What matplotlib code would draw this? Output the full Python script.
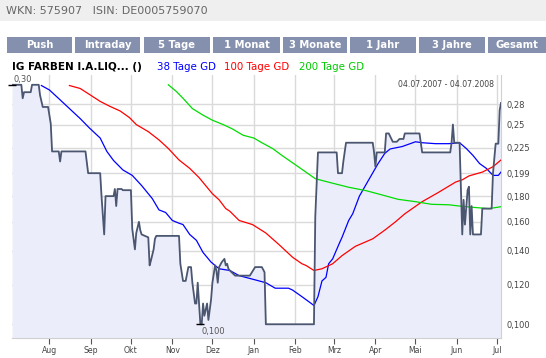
import numpy as np
import matplotlib
matplotlib.use("Agg")
import matplotlib.pyplot as plt
from matplotlib.patches import Rectangle

plt.rcParams['font.family'] = ['DejaVu Sans']

# ---- data -------------------------------------------------------------
price_dates = ["2007-07-04", "2007-07-11", "2007-07-12", "2007-07-13", "2007-07-18", "2007-07-19",
               "2007-07-24", "2007-07-25", "2007-07-27", "2007-07-31", "2007-08-02", "2007-08-03",
               "2007-08-08", "2007-08-09", "2007-08-10", "2007-08-28", "2007-08-30", "2007-09-08",
               "2007-09-09", "2007-09-11", "2007-09-12", "2007-09-18", "2007-09-19", "2007-09-20",
               "2007-09-21", "2007-09-24", "2007-09-25", "2007-10-01", "2007-10-02", "2007-10-04",
               "2007-10-05", "2007-10-07", "2007-10-08", "2007-10-09", "2007-10-14", "2007-10-15",
               "2007-10-16", "2007-10-18", "2007-10-19", "2007-10-20", "2007-11-06", "2007-11-07",
               "2007-11-09", "2007-11-11", "2007-11-13", "2007-11-15", "2007-11-16", "2007-11-18",
               "2007-11-19", "2007-11-20", "2007-11-21", "2007-11-22", "2007-11-23", "2007-11-24",
               "2007-11-25", "2007-11-27", "2007-11-28", "2007-11-30", "2007-12-01", "2007-12-03",
               "2007-12-04", "2007-12-05", "2007-12-06", "2007-12-08", "2007-12-10", "2007-12-11",
               "2007-12-12", "2007-12-13", "2007-12-14", "2007-12-18", "2007-12-29", "2008-01-02",
               "2008-01-07", "2008-01-09", "2008-01-10", "2008-02-15", "2008-02-16", "2008-02-18",
               "2008-03-03", "2008-03-04", "2008-03-07", "2008-03-08", "2008-03-10", "2008-03-30",
               "2008-03-31", "2008-04-01", "2008-04-02", "2008-04-08", "2008-04-09", "2008-04-11",
               "2008-04-14", "2008-04-17", "2008-04-19", "2008-04-22", "2008-04-23", "2008-05-04",
               "2008-05-06", "2008-05-27", "2008-05-28", "2008-05-29", "2008-05-30", "2008-06-03",
               "2008-06-05", "2008-06-06", "2008-06-07", "2008-06-09", "2008-06-10", "2008-06-11",
               "2008-06-12", "2008-06-13", "2008-06-19", "2008-06-20", "2008-06-27", "2008-06-28",
               "2008-06-30", "2008-07-02", "2008-07-03", "2008-07-04"]
price = [0.300, 0.300, 0.282, 0.290, 0.290, 0.300,
         0.300, 0.286, 0.271, 0.271, 0.251, 0.221,
         0.221, 0.211, 0.221, 0.221, 0.200, 0.200,
         0.180, 0.151, 0.180, 0.180, 0.186, 0.172,
         0.186, 0.186, 0.185, 0.185, 0.155, 0.141,
         0.152, 0.160, 0.154, 0.151, 0.149, 0.131,
         0.134, 0.141, 0.148, 0.150, 0.150, 0.132,
         0.122, 0.122, 0.130, 0.130, 0.121, 0.110,
         0.110, 0.121, 0.110, 0.100, 0.100, 0.110,
         0.104, 0.110, 0.102, 0.112, 0.121, 0.131,
         0.128, 0.121, 0.130, 0.133, 0.135, 0.131,
         0.132, 0.129, 0.128, 0.125, 0.125, 0.130,
         0.130, 0.127, 0.100, 0.100, 0.164, 0.220,
         0.220, 0.200, 0.200, 0.211, 0.230, 0.230,
         0.220, 0.206, 0.220, 0.220, 0.240, 0.240,
         0.231, 0.231, 0.234, 0.234, 0.240, 0.240,
         0.220, 0.220, 0.230, 0.250, 0.230, 0.230,
         0.151, 0.177, 0.158, 0.185, 0.188, 0.151,
         0.172, 0.151, 0.151, 0.170, 0.170, 0.200,
         0.229, 0.229, 0.267, 0.276]

gd38_dates = ["2007-07-26", "2007-08-01", "2007-08-09", "2007-08-16", "2007-08-24", "2007-08-31",
              "2007-09-08", "2007-09-13", "2007-09-18", "2007-09-25", "2007-10-02", "2007-10-09",
              "2007-10-17", "2007-10-22", "2007-10-27", "2007-11-01", "2007-11-06", "2007-11-09",
              "2007-11-14", "2007-11-19", "2007-11-24", "2007-11-30", "2007-12-06", "2007-12-14",
              "2007-12-21", "2007-12-31", "2008-01-10", "2008-01-17", "2008-01-27", "2008-01-30",
              "2008-02-06", "2008-02-11", "2008-02-15", "2008-02-18", "2008-02-21", "2008-02-24",
              "2008-02-26", "2008-02-29", "2008-03-05", "2008-03-07", "2008-03-12", "2008-03-15",
              "2008-03-20", "2008-03-27", "2008-04-03", "2008-04-08", "2008-04-12", "2008-04-21",
              "2008-05-01", "2008-05-06", "2008-05-16", "2008-05-26", "2008-06-03", "2008-06-08",
              "2008-06-13", "2008-06-18", "2008-06-23", "2008-06-28", "2008-07-02", "2008-07-04"]
gd38 = [0.299, 0.293, 0.280, 0.269, 0.257, 0.246,
        0.235, 0.221, 0.212, 0.203, 0.198, 0.189,
        0.178, 0.169, 0.167, 0.161, 0.159, 0.158,
        0.151, 0.147, 0.139, 0.133, 0.129, 0.128,
        0.125, 0.123, 0.121, 0.118, 0.118, 0.117,
        0.1135, 0.111, 0.109, 0.1135, 0.122, 0.124,
        0.132, 0.135, 0.145, 0.149, 0.161, 0.166,
        0.180, 0.194, 0.209, 0.219, 0.2235, 0.226,
        0.231, 0.230, 0.229, 0.229, 0.230, 0.224,
        0.217, 0.209, 0.2045, 0.198, 0.198, 0.201]

gd100_dates = ["2007-08-16", "2007-08-24", "2007-08-31", "2007-09-08", "2007-09-15", "2007-09-23",
               "2007-09-30", "2007-10-05", "2007-10-14", "2007-10-22", "2007-10-29", "2007-11-06",
               "2007-11-14", "2007-11-21", "2007-12-01", "2007-12-06", "2007-12-11", "2007-12-14",
               "2007-12-21", "2007-12-31", "2008-01-10", "2008-01-20", "2008-01-30", "2008-02-06",
               "2008-02-09", "2008-02-15", "2008-02-21", "2008-02-29", "2008-03-07", "2008-03-17",
               "2008-03-30", "2008-04-08", "2008-04-16", "2008-04-23", "2008-05-06", "2008-05-18",
               "2008-05-31", "2008-06-05", "2008-06-10", "2008-06-20", "2008-06-28", "2008-07-04"]
gd100 = [0.299, 0.295, 0.287, 0.278, 0.272, 0.266,
         0.258, 0.250, 0.242, 0.233, 0.224, 0.2125,
         0.2045, 0.196, 0.182, 0.177, 0.170, 0.168,
         0.161, 0.158, 0.152, 0.144, 0.136, 0.132,
         0.131, 0.128, 0.129, 0.132, 0.137, 0.143,
         0.148, 0.154, 0.160, 0.166, 0.1755, 0.183,
         0.192, 0.194, 0.1975, 0.201, 0.206, 0.2125]

gd200_dates = ["2007-10-29", "2007-11-04", "2007-11-09", "2007-11-16", "2007-11-24", "2007-12-01",
               "2007-12-09", "2007-12-16", "2007-12-24", "2008-01-01", "2008-01-07", "2008-01-15",
               "2008-01-22", "2008-02-01", "2008-02-09", "2008-02-16", "2008-02-29", "2008-03-12",
               "2008-03-25", "2008-04-06", "2008-04-18", "2008-05-01", "2008-05-13", "2008-05-26",
               "2008-06-03", "2008-06-13", "2008-06-25", "2008-07-04"]
gd200 = [0.300, 0.291, 0.282, 0.269, 0.261, 0.255,
         0.250, 0.245, 0.238, 0.235, 0.230, 0.224,
         0.217, 0.208, 0.201, 0.195, 0.191, 0.1875,
         0.1846, 0.181, 0.1774, 0.1755, 0.1734, 0.173,
         0.172, 0.171, 0.170, 0.1715]

ytick_vals = [0.100, 0.120, 0.140, 0.160, 0.180, 0.200, 0.225, 0.25, 0.2745]
ytick_labels = ['0,100', '0,120', '0,140', '0,160', '0,180', '0,199', '0,225', '0,25', '0,28']
month_labels = ['Aug', 'Sep', 'Okt', 'Nov', 'Dez', 'Jan', 'Feb', 'Mrz', 'Apr', 'Mai', 'Jun', 'Jul']
buttons = ['Push', 'Intraday', '5 Tage', '1 Monat', '3 Monate', '1 Jahr', '3 Jahre', 'Gesamt']
button_x = [(7, 72), (75, 140), (144, 210), (213, 280), (283, 347), (350, 416), (419, 485), (488, 546)]

W, H = 546, 358
fig = plt.figure(figsize=(W / 100, H / 100), dpi=100)


def fx(px):
    return px / W


def fy(py):
    return 1 - py / H


# ---- header -----------------------------------------------------------
fig.patches.append(Rectangle((0, fy(21)), 1, 21 / H, transform=fig.transFigure,
                             facecolor='#efefef', edgecolor='none'))
fig.text(fx(6), fy(11.5), 'WKN: 575907   ISIN: DE0005759070', fontsize=8,
         color='#666666', va='center', ha='left')
for lab, (x0, x1) in zip(buttons, button_x):
    fig.patches.append(Rectangle((fx(x0), fy(53)), (x1 - x0) / W, 15.5 / H,
                                 transform=fig.transFigure, facecolor='#8490ad',
                                 edgecolor='none'))
    fig.text(fx((x0 + x1) / 2), fy(45.5), lab, fontsize=7.2, color='white',
             fontweight='bold', ha='center', va='center')

# title line with legend
fig.text(fx(12), fy(66.5), 'IG FARBEN I.A.LIQ... ()', fontsize=7.5, fontweight='bold',
         color='black', va='center', ha='left')
fig.text(fx(157), fy(66.5), '38 Tage GD', fontsize=7.4, color='#0000ff', va='center')
fig.text(fx(224), fy(66.5), '100 Tage GD', fontsize=7.4, color='#ff0000', va='center')
fig.text(fx(299), fy(66.5), '200 Tage GD', fontsize=7.4, color='#00cc00', va='center')

# ---- chart ------------------------------------------------------------
ax = fig.add_axes([fx(12), fy(338), (501 - 12) / W, (338 - 75) / H])

pd_ = np.array(price_dates, dtype='datetime64[D]')
p = np.array(price)
ymin, ymax = 0.0939, 0.3138

ax.set_yscale('log')
ax.fill_between(pd_, p, ymin, color='#ecedfb', lw=0, zorder=1)
ax.plot(pd_, p, color='#4b5670', lw=1.3, zorder=4)
ax.plot(np.array(gd38_dates, dtype='datetime64[D]'), gd38, color='#0000ff', lw=0.9, zorder=3)
ax.plot(np.array(gd100_dates, dtype='datetime64[D]'), gd100, color='#ff0000', lw=0.9, zorder=3)
ax.plot(np.array(gd200_dates, dtype='datetime64[D]'), gd200, color='#00dd00', lw=0.9, zorder=3)

ax.set_xlim(np.datetime64('2007-07-04'), np.datetime64('2008-07-04'))
ax.set_ylim(ymin, ymax)

months = np.arange(np.datetime64('2007-08'), np.datetime64('2008-08'), dtype='datetime64[M]')
ax.set_xticks(months.astype('datetime64[D]'))
ax.set_xticklabels(month_labels, fontsize=5.6, color='#444444')
ax.yaxis.set_minor_locator(matplotlib.ticker.NullLocator())
ax.set_yticks(ytick_vals)
ax.set_yticklabels(ytick_labels, fontsize=6, color='#444444')
ax.yaxis.tick_right()
ax.tick_params(axis='y', length=0, pad=4)
ax.tick_params(axis='x', length=4, width=0.8, color='#555555', pad=2)
ax.grid(True, color='#dadada', lw=1, zorder=0)
ax.set_axisbelow(True)
for s in ['top', 'left']:
    ax.spines[s].set_visible(False)
ax.spines['bottom'].set_color('#d0d0d0')
ax.spines['right'].set_color('#d0d0d0')

# max / min markers
imax, imin = int(np.argmax(p)), int(np.argmin(p))
ax.plot([pd_[imax]], [p[imax]], marker='_', color='black', ms=6, mew=1, clip_on=False, zorder=5)
ax.annotate('0,30', (pd_[imax], p[imax]), xytext=(1, 4), textcoords='offset points',
            fontsize=6, color='#555555', ha='left', va='center')
ax.plot([pd_[imin]], [p[imin]], marker='_', color='black', ms=6, mew=1, clip_on=False, zorder=5)
ax.annotate('0,100', (pd_[imin], p[imin]), xytext=(1, -5), textcoords='offset points',
            fontsize=6, color='#555555', ha='left', va='center')

ax.text(0.986, 0.965, '04.07.2007 - 04.07.2008', transform=ax.transAxes, fontsize=5.6,
        color='#444444', ha='right', va='center')

fig.savefig('out.png', dpi=100)
